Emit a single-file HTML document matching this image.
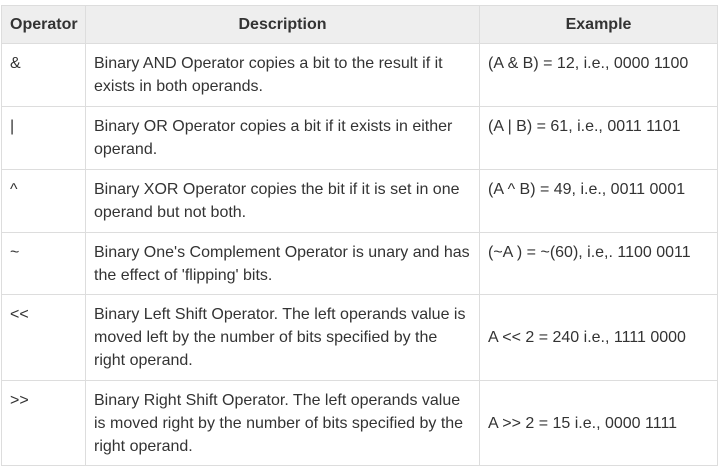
<!DOCTYPE html>
<html><head><style>
body{margin:0;background:#fff;}
table{position:absolute;left:1px;top:5px;border-collapse:collapse;font-family:"Liberation Sans",sans-serif;font-size:16px;color:#333;line-height:23px;table-layout:fixed;width:716px;}
td,th{border:1px solid #ddd;padding:8px 8px 7px 8px;vertical-align:top;text-align:left;}
th{background:#eee;font-weight:bold;text-align:center;height:22px;padding:7px 8px;}
td.m{vertical-align:middle;padding-top:7px;}
</style></head><body>
<table>
<colgroup><col style="width:84px"><col style="width:394px"><col style="width:238px"></colgroup>
<tr><th>Operator</th><th>Description</th><th>Example</th></tr>
<tr style="height:63px"><td>&amp;</td><td>Binary AND Operator copies a bit to the result if it exists in both operands.</td><td>(A &amp; B) = 12, i.e., 0000 1100</td></tr>
<tr style="height:63px"><td>|</td><td>Binary OR Operator copies a bit if it exists in either operand.</td><td>(A | B) = 61, i.e., 0011 1101</td></tr>
<tr style="height:63px"><td>^</td><td>Binary XOR Operator copies the bit if it is set in one operand but not both.</td><td>(A ^ B) = 49, i.e., 0011 0001</td></tr>
<tr style="height:62px"><td>~</td><td>Binary One's Complement Operator is unary and has the effect of 'flipping' bits.</td><td>(~A ) = ~(60), i.e,. 1100 0011</td></tr>
<tr style="height:86px"><td>&lt;&lt;</td><td>Binary Left Shift Operator. The left operands value is moved left by the number of bits specified by the right operand.</td><td class="m">A &lt;&lt; 2 = 240 i.e., 1111 0000</td></tr>
<tr style="height:85px"><td>&gt;&gt;</td><td>Binary Right Shift Operator. The left operands value is moved right by the number of bits specified by the right operand.</td><td class="m">A &gt;&gt; 2 = 15 i.e., 0000 1111</td></tr>
</table>
</body></html>
